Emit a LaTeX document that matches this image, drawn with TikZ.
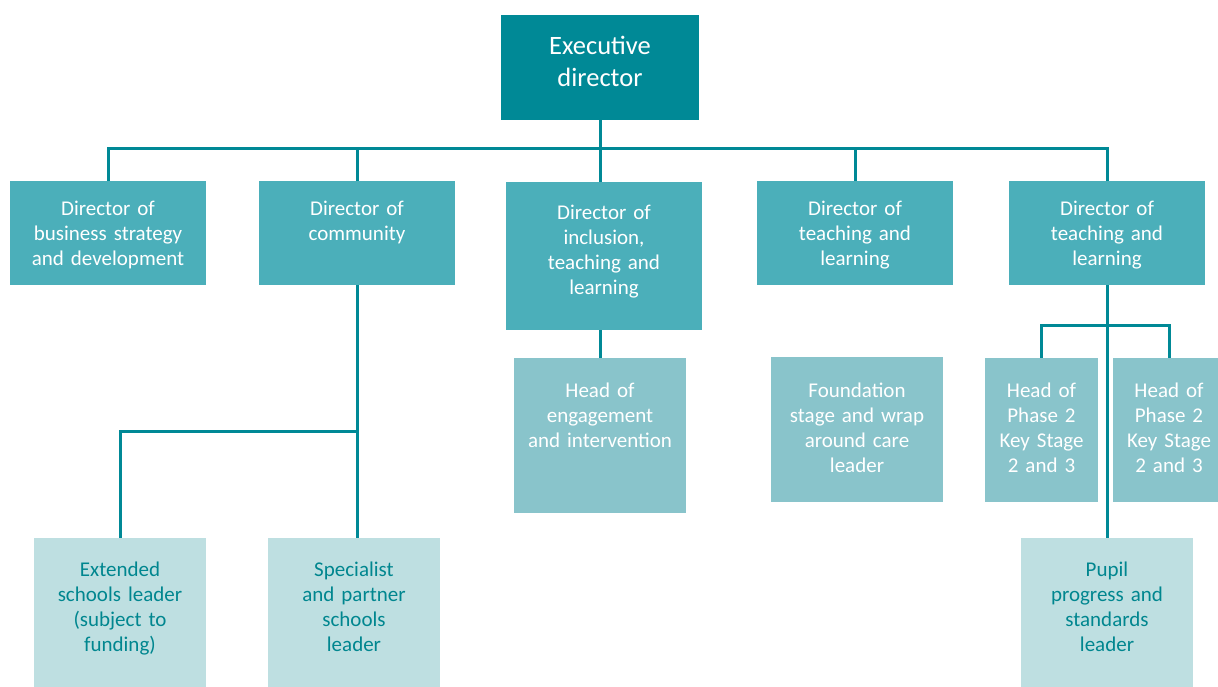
\documentclass[tikz,border=0pt]{standalone}
\usepackage{fontspec}
\setmainfont{Carlito}
\usetikzlibrary{positioning}

\begin{document}
\begin{tikzpicture}[x=1pt,y=-1pt,
  box/.style n args={3}{inner sep=0pt, text width=#1pt, text height=#3pt,
    text depth={(#2-#3)*1pt}, align=center, font=\fontsize{21}{25}\selectfont},
  dir/.style={fill=dirteal, text=white},
  head/.style={fill=headteal, text=white},
  lead/.style={fill=leadteal, text=textteal},
  link/.style={draw=execteal, line width=3pt}]

\definecolor{execteal}{RGB}{0,137,150}
\definecolor{dirteal}{RGB}{75,175,186}
\definecolor{headteal}{RGB}{137,196,203}
\definecolor{leadteal}{RGB}{190,223,225}
\definecolor{textteal}{RGB}{0,134,143}

\useasboundingbox (0,0) rectangle (1218,686);

% top
\node[box={198}{105}{39}, fill=execteal, text=white,
  font=\fontsize{26.5}{32}\selectfont] (exec) at (600,67.5) {Executive\\director};

% directors
\node[box={196}{104}{34}, dir] (biz)  at (108,233) {Director of\\business strategy\\and development};
\node[box={196}{104}{34}, dir] (comm) at (357,233) {Director of\\community};
\node[box={196}{148}{37}, dir] (incl) at (604,256) {Director of\\inclusion,\\teaching and\\learning};
\node[box={196}{104}{34}, dir] (tl)   at (855,233) {Director of\\teaching and\\learning};
\node[box={196}{104}{34}, dir] (tl2)  at (1107,233) {Director of\\teaching and\\learning};

% heads
\node[box={172}{155}{39}, head] (engage) at (600,435.5) {Head of\\engagement\\and intervention};
\node[box={172}{145}{40}, head] (found)  at (857,429.5) {Foundation\\stage and wrap\\around care\\leader};
\node[box={113}{144}{39}, head] (phA)    at (1041.5,430) {Head of\\Phase 2\\Key Stage\\2 and 3};
\node[box={113}{144}{39}, head] (phB)    at (1169,430) {Head of\\Phase 2\\Key Stage\\2 and 3};

% leaders
\node[box={172}{152}{38}, lead] (ext)   at (120,614) {Extended\\schools leader\\(subject to\\funding)};
\node[box={172}{152}{38}, lead] (spec)  at (354,614) {Specialist\\and partner\\schools\\leader};
\node[box={172}{152}{38}, lead] (pupil) at (1107,614) {Pupil\\progress and\\standards\\leader};

\coordinate (bus) at (600,148);
\coordinate (commfork) at (357,431);
\coordinate (tlfork) at (1107,325);

\draw[link] (biz.north) |- (tl2.north |- bus) -- (tl2.north);
\foreach \n in {comm,tl}
  \draw[link] (bus -| \n.north) -- (\n.north);
\draw[link] (exec.south) -- (exec.south |- incl.north);

\draw[link] (comm.south) -- (comm.south |- spec.north);
\draw[link] (commfork) -| (ext.north);
\draw[link] (engage.north) -- (engage.north |- incl.south);

\draw[link] (tl2.south) -- (tl2.south |- pupil.north);
\draw[link] (phA.north) |- (phB.north |- tlfork) -- (phB.north);

\end{tikzpicture}
\end{document}
